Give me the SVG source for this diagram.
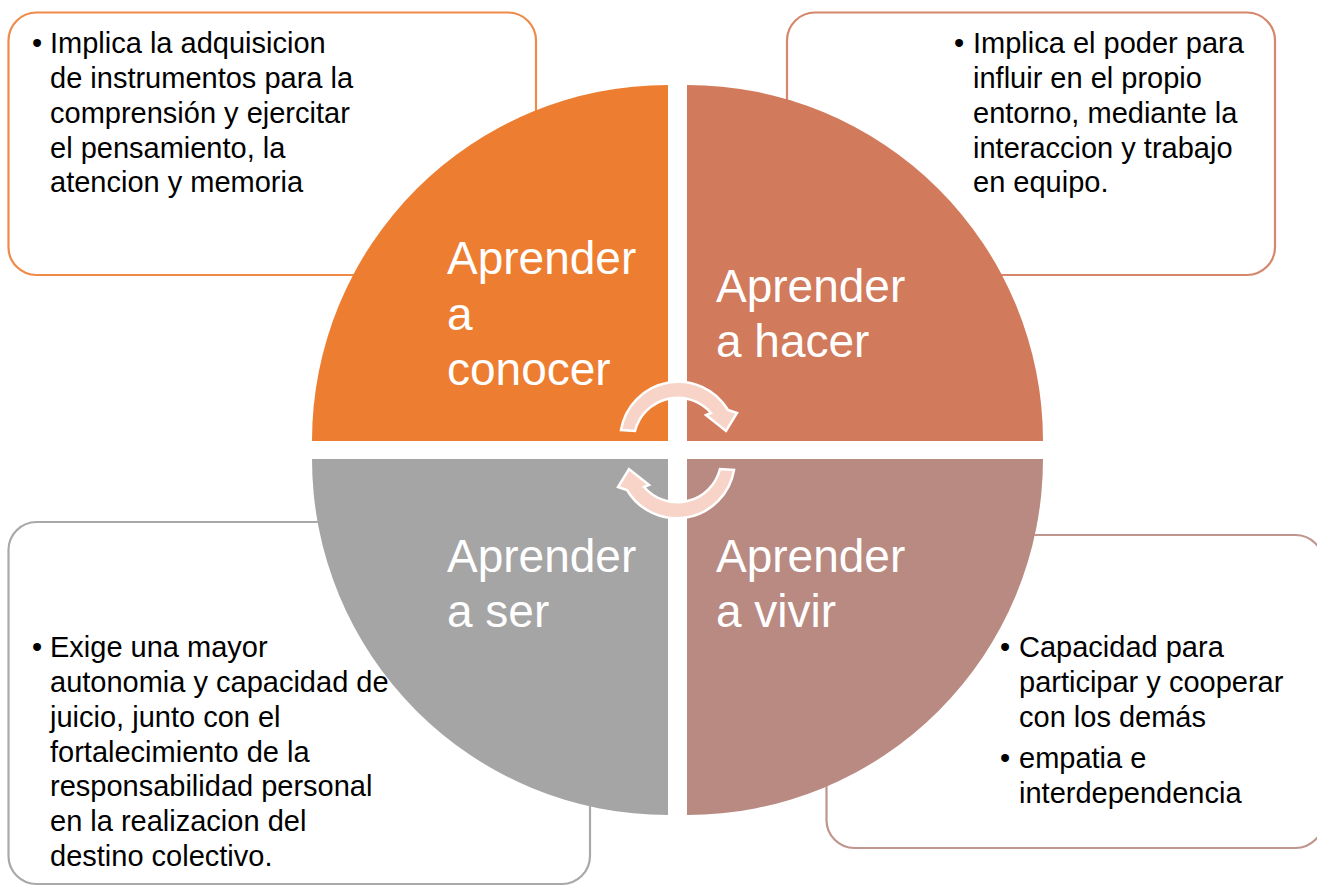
<svg xmlns="http://www.w3.org/2000/svg" width="1317" height="886" viewBox="0 0 1317 886">
  <defs>
    <style>
      .box { fill: #FFFFFF; stroke-width: 2.2; }
      .body { font-family: "Liberation Sans", Arial, sans-serif; font-size: 29px; fill: #000000; }
      .label { font-family: "Liberation Sans", Arial, sans-serif; font-size: 46px; fill: #FFFFFF; }
      .arrow { fill: #F7D4C7; stroke: #FFFFFF; stroke-width: 2.5; stroke-linejoin: miter; }
    </style>
    <path id="cyc" d="M 621,430 A 58 58 0 0 1 728,410 L 737,413 L 726,431 L 706,415 L 711,413 A 44 44 0 0 0 635,431 Z"/>
  </defs>
  <rect width="1317" height="886" fill="#FFFFFF"/>

  <g id="box-conocer">
    <rect class="box" x="8.5" y="12.5" width="527.5" height="262.5" rx="28" stroke="#EF8A48"/>
    <text class="body">
      <tspan x="32" y="53">•</tspan>
      <tspan x="50" y="53">Implica la adquisicion</tspan>
      <tspan x="50" y="88">de instrumentos para la</tspan>
      <tspan x="50" y="123">comprensión y ejercitar</tspan>
      <tspan x="50" y="158">el pensamiento, la</tspan>
      <tspan x="50" y="192">atencion y memoria</tspan>
    </text>
  </g>

  <g id="box-hacer">
    <rect class="box" x="787" y="12.5" width="488" height="262.5" rx="28" stroke="#D6866A"/>
    <text class="body">
      <tspan x="954" y="53">•</tspan>
      <tspan x="973" y="53">Implica el poder para</tspan>
      <tspan x="973" y="88">influir en el propio</tspan>
      <tspan x="973" y="123">entorno, mediante la</tspan>
      <tspan x="973" y="158">interaccion y trabajo</tspan>
      <tspan x="973" y="192">en equipo.</tspan>
    </text>
  </g>

  <g id="box-ser">
    <rect class="box" x="8.5" y="522" width="581.5" height="362" rx="28" stroke="#A9A9A9"/>
    <text class="body">
      <tspan x="32" y="657">•</tspan>
      <tspan x="50" y="657">Exige una mayor</tspan>
      <tspan x="50" y="692">autonomia y capacidad de</tspan>
      <tspan x="50" y="727">juicio, junto con el</tspan>
      <tspan x="50" y="762">fortalecimiento de la</tspan>
      <tspan x="50" y="796">responsabilidad personal</tspan>
      <tspan x="50" y="831">en la realizacion del</tspan>
      <tspan x="50" y="866">destino colectivo.</tspan>
    </text>
  </g>

  <g id="box-vivir">
    <rect class="box" x="826.5" y="535" width="497" height="313" rx="28" stroke="#C0958E"/>
    <text class="body">
      <tspan x="1000" y="657">•</tspan>
      <tspan x="1019" y="657">Capacidad para</tspan>
      <tspan x="1019" y="692">participar y cooperar</tspan>
      <tspan x="1019" y="727">con los demás</tspan>
      <tspan x="1000" y="768">•</tspan>
      <tspan x="1019" y="768">empatia e</tspan>
      <tspan x="1019" y="803">interdependencia</tspan>
    </text>
  </g>

  <g id="q-conocer">
    <path d="M 668,441 L 312,441 A 356 356 0 0 1 668,85 Z" fill="#ED7D31"/>
    <text class="label">
      <tspan x="447" y="274">Aprender</tspan>
      <tspan x="447" y="330">a</tspan>
      <tspan x="447" y="385">conocer</tspan>
    </text>
  </g>

  <g id="q-hacer">
    <path d="M 687,441 L 687,85 A 356 356 0 0 1 1043,441 Z" fill="#D17A5C"/>
    <text class="label">
      <tspan x="716" y="302">Aprender</tspan>
      <tspan x="716" y="357">a hacer</tspan>
    </text>
  </g>

  <g id="q-vivir">
    <path d="M 687,459 L 1043,459 A 356 356 0 0 1 687,815 Z" fill="#B98A82"/>
    <text class="label">
      <tspan x="716" y="572">Aprender</tspan>
      <tspan x="716" y="627">a vivir</tspan>
    </text>
  </g>

  <g id="q-ser">
    <path d="M 668,459 L 668,815 A 356 356 0 0 1 312,459 Z" fill="#A5A5A5"/>
    <text class="label">
      <tspan x="447" y="572">Aprender</tspan>
      <tspan x="447" y="627">a ser</tspan>
    </text>
  </g>

  <g id="connectors">
    <use href="#cyc" class="arrow"/>
    <use href="#cyc" class="arrow" transform="rotate(180 677.5 450)"/>
  </g>
</svg>
